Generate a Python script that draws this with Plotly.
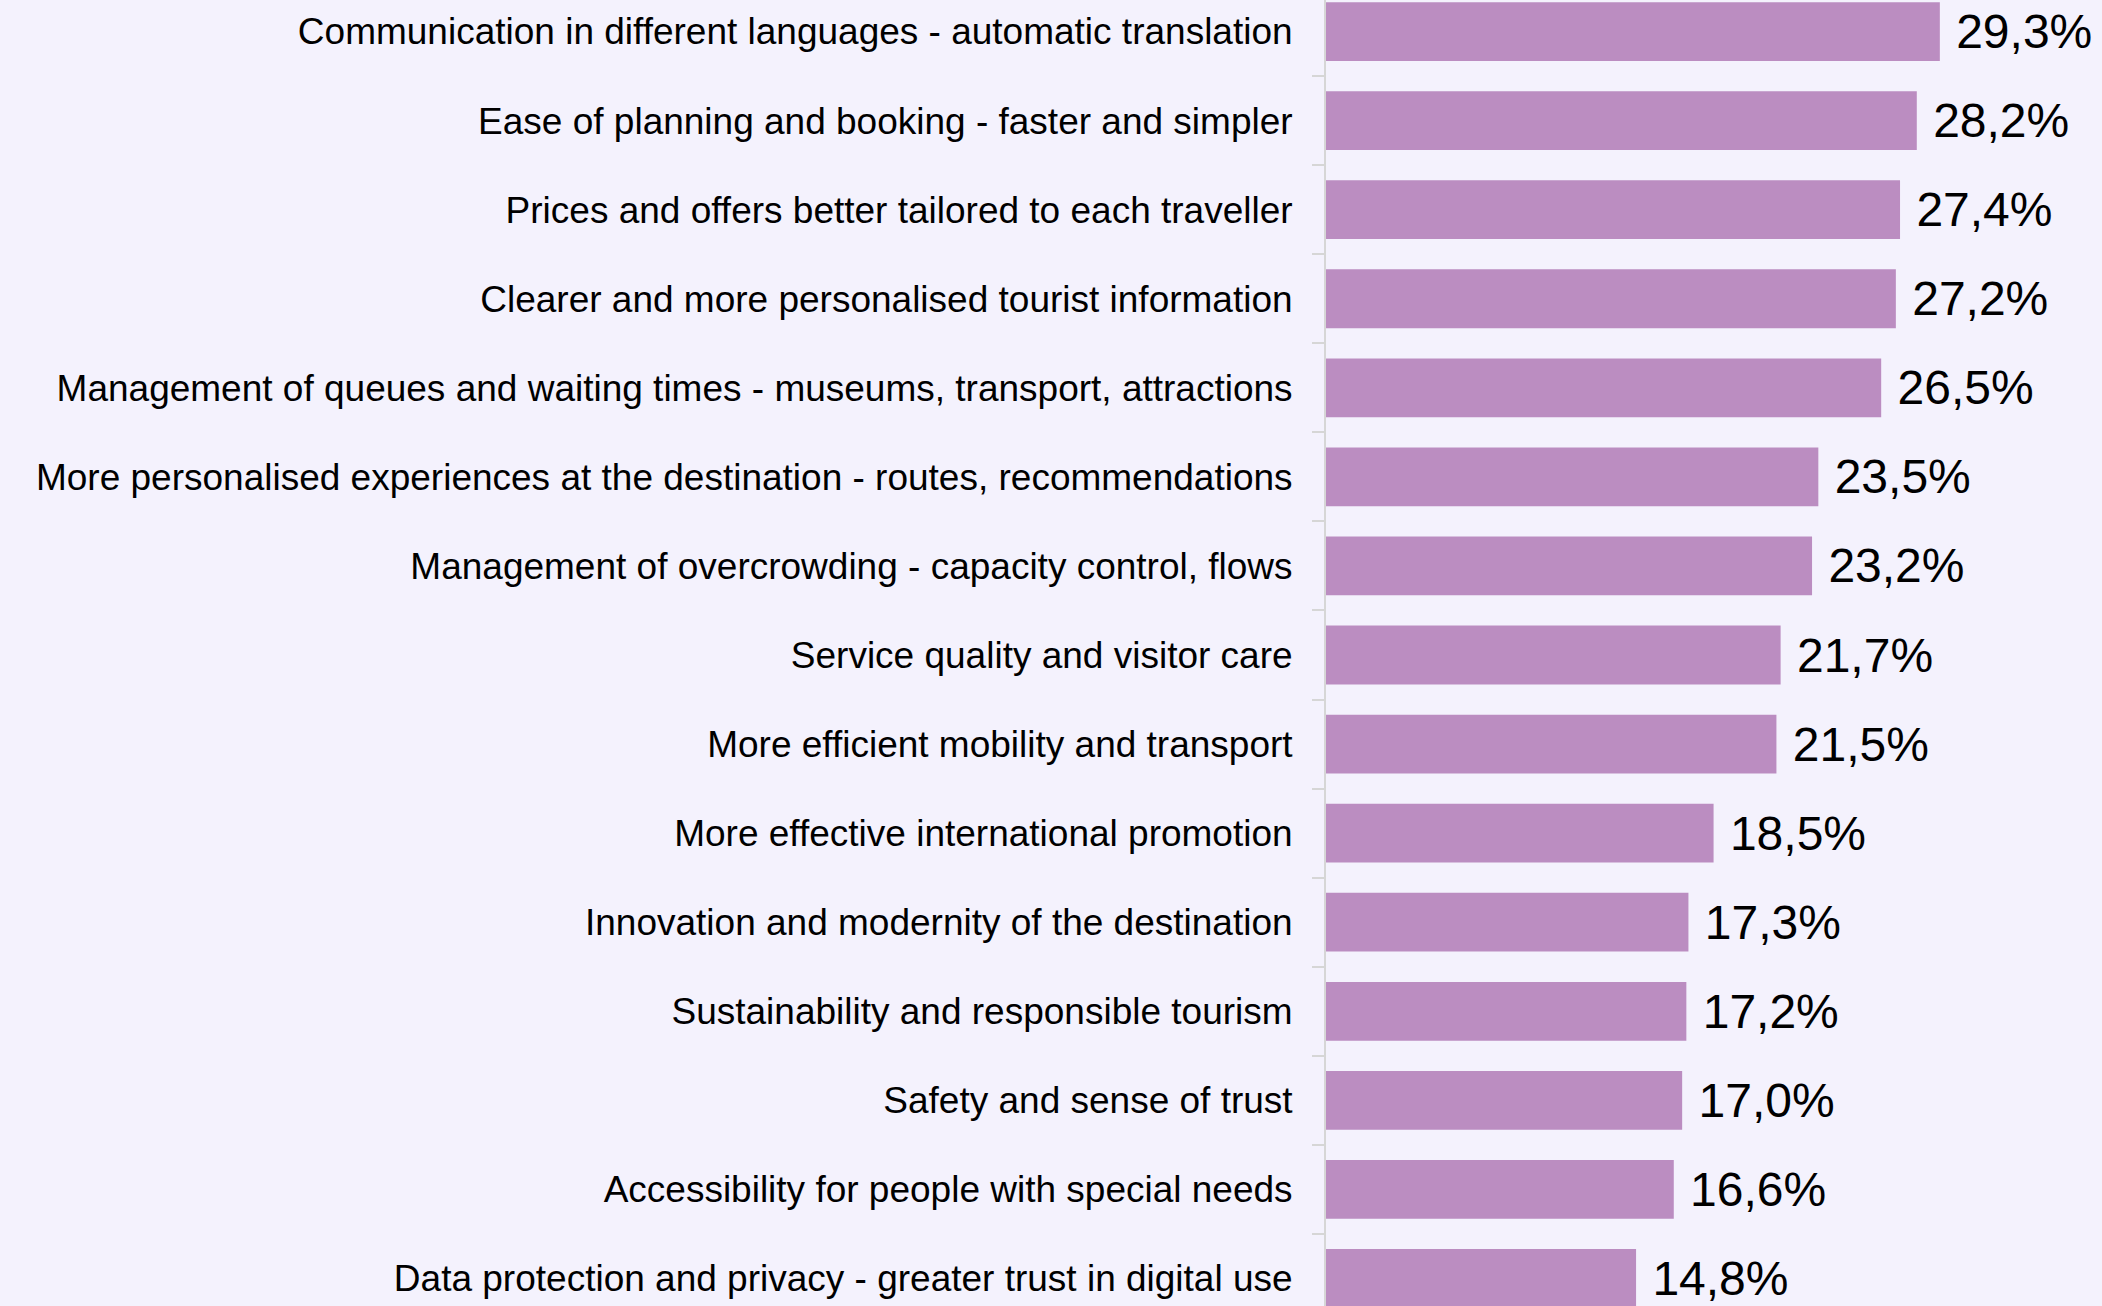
import plotly.graph_objects as go

# categories listed top to bottom, as in the picture
categories = [
    "Communication in different languages - automatic translation",
    "Ease of planning and booking - faster and simpler",
    "Prices and offers better tailored to each traveller",
    "Clearer and more personalised tourist information",
    "Management of queues and waiting times - museums, transport, attractions",
    "More personalised experiences at the destination - routes, recommendations",
    "Management of overcrowding - capacity control, flows",
    "Service quality and visitor care",
    "More efficient mobility and transport",
    "More effective international promotion",
    "Innovation and modernity of the destination",
    "Sustainability and responsible tourism",
    "Safety and sense of trust",
    "Accessibility for people with special needs",
    "Data protection and privacy - greater trust in digital use",
]
values = [29.3, 28.2, 27.4, 27.2, 26.5, 23.5, 23.2, 21.7, 21.5, 18.5, 17.3, 17.2, 17.0, 16.6, 14.8]

# labels use a decimal comma
labels = [" " + f"{v:.1f}".replace(".", ",") + "%" for v in values]

bg = "#F4F2FD"
bar_color = "#BB8DC1"

fig = go.Figure(go.Bar(
    x=values,
    y=categories,
    orientation="h",
    marker=dict(color=bar_color, line=dict(width=0)),
    width=0.66,
    text=labels,
    textposition="outside",
    textfont=dict(family="Liberation Sans, Arial, sans-serif", size=48, color="black"),
    cliponaxis=False,
    hoverinfo="skip",
))

fig.update_layout(
    width=2102,
    height=1306,
    paper_bgcolor=bg,
    plot_bgcolor=bg,
    margin=dict(l=1326, r=0, t=0, b=0, pad=0),
    showlegend=False,
    font=dict(family="Liberation Sans, Arial, sans-serif", color="black"),
)

fig.update_xaxes(
    range=[0, 37.04],
    visible=False,
    showgrid=False,
    zeroline=False,
)

fig.update_yaxes(
    type="category",
    categoryorder="array",
    categoryarray=categories,
    range=[14.309, -0.354],
    showline=True,
    linecolor="#D6D6D6",
    linewidth=2,
    ticks="outside",
    tickson="boundaries",
    ticklen=12,
    tickwidth=2,
    tickcolor="#D6D6D6",
    ticklabelstandoff=24,
    tickfont=dict(size=37, color="black"),
    showgrid=False,
    automargin=False,
)

# drop the page margin so the figure sits at the window corner
fig.write_html(
    "out.html",
    config={"displayModeBar": False},
    post_script="document.body.style.margin='0';",
)
